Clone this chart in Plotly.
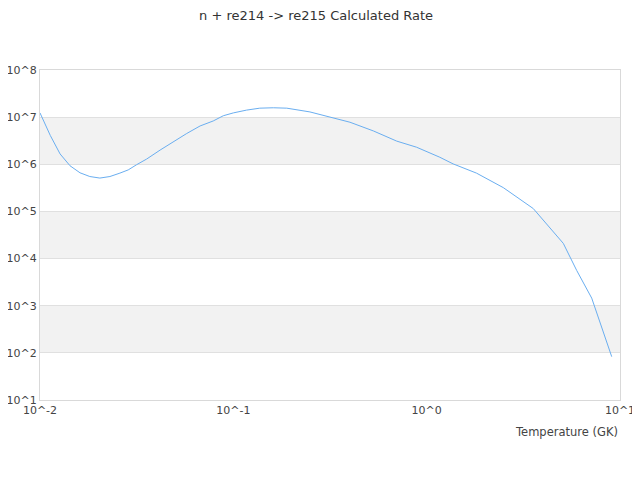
import plotly.graph_objects as go

# temperature grid (GK) and rate
temperature = [0.0100, 0.0113, 0.0127, 0.0143, 0.0161, 0.0181, 0.0204, 0.0230,
               0.0259, 0.0286, 0.0316, 0.0356, 0.0418, 0.0489, 0.0574, 0.0673,
               0.0787, 0.0887, 0.100, 0.117, 0.137, 0.161, 0.189, 0.249,
               0.316, 0.401, 0.530, 0.700, 0.887, 1.17, 1.37, 1.81,
               2.49, 3.56, 5.09, 5.97, 7.14, 9.06]
rate = [1.23e7, 4.1e6, 1.66e6, 9.3e5, 6.6e5, 5.5e5, 5.1e5, 5.5e5,
        6.5e5, 7.6e5, 9.8e5, 1.29e6, 2.0e6, 3.0e6, 4.5e6, 6.5e6,
        8.3e6, 1.07e7, 1.23e7, 1.41e7, 1.55e7, 1.58e7, 1.55e7, 1.29e7,
        1.02e7, 7.8e6, 5.1e6, 3.1e6, 2.3e6, 1.41e6, 1.02e6, 6.5e5,
        3.2e5, 1.15e5, 2.1e4, 5.6e3, 1.45e3, 83]

x_tickvals = [0.01, 0.1, 1, 10]
x_ticktext = ["10^-2", "10^-1", "10^0", "10^1"]
y_tickvals = [1e1, 1e2, 1e3, 1e4, 1e5, 1e6, 1e7, 1e8]
y_ticktext = ["10^1", "10^2", "10^3", "10^4", "10^5", "10^6", "10^7", "10^8"]
y_range = [1, 8]
band_decades = [(2, 3), (4, 5), (6, 7)]  # shaded bands, log10 units

fig = go.Figure()
fig.add_trace(go.Scatter(
    x=temperature, y=rate, mode="lines",
    line=dict(color="#6aaef0", width=1),
    showlegend=False,
))

span = y_range[1] - y_range[0]
for lo, hi in band_decades:
    fig.add_shape(type="rect", xref="paper", yref="paper", x0=0, x1=1,
                  y0=(lo - y_range[0]) / span, y1=(hi - y_range[0]) / span,
                  fillcolor="#f2f2f2", line=dict(width=0), layer="below")

# page sits ~8px in from the window corner, so the figure is a bit smaller
fig.update_layout(
    width=632, height=472,
    margin=dict(l=32, r=20, t=62, b=80),
    paper_bgcolor="white", plot_bgcolor="white",
    font=dict(family="DejaVu Sans", size=11, color="#444"),
    title=dict(text="n + re214 -> re215 Calculated Rate", x=0.4875, xanchor="center",
               y=0.985, yanchor="middle", font=dict(size=13, color="#333")),
    xaxis=dict(type="log", range=[-2, 1], tickvals=x_tickvals, ticktext=x_ticktext,
               showgrid=False, zeroline=False, showline=True, mirror=True,
               linecolor="#d9d9d9", linewidth=1, ticks="", automargin=False),
    yaxis=dict(type="log", range=y_range, tickvals=y_tickvals, ticktext=y_ticktext,
               showgrid=True, gridcolor="#e0e0e0", gridwidth=1, zeroline=False,
               showline=True, mirror=True, linecolor="#d9d9d9", linewidth=1, ticks="",
               automargin=False),
    annotations=[dict(text="Temperature (GK)", xref="paper", yref="paper",
                      x=1, y=-0.097, xanchor="right", yanchor="middle",
                      showarrow=False, font=dict(size=11.5, color="#444"))],
)

fig.write_html("out.html")
